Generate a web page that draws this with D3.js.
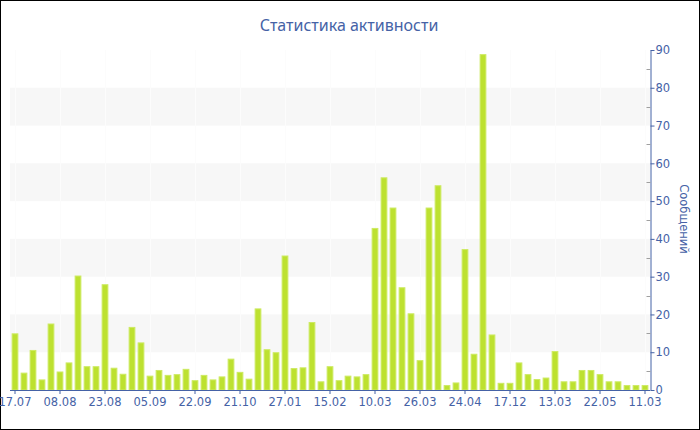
<!DOCTYPE html>
<html><head><meta charset="utf-8">
<script src="https://cdn.jsdelivr.net/npm/d3@7"></script>
<style>body{margin:0;background:#fff}svg{display:block}</style>
</head><body>
<script>
const titleText = "Статистика активности";
const yTitle = "Сообщений";
const values = [15.0,4.6,10.6,2.8,17.6,4.9,7.3,30.3,6.3,6.3,
  28.0,5.9,4.3,16.7,12.6,3.8,5.3,4.0,4.2,5.6,
  2.6,4.0,2.8,3.6,8.3,4.8,3.0,21.6,10.8,10.0,
  35.6,5.8,6.0,18.0,2.3,6.3,2.6,3.8,3.6,4.2,
  42.9,56.3,48.3,27.2,20.3,7.9,48.3,54.2,1.3,2.0,
  37.3,9.6,88.9,14.7,1.9,1.9,7.3,4.2,2.9,3.3,
  10.3,2.3,2.3,5.3,5.3,4.2,2.3,2.3,1.3,1.3,1.3];
const tickLabels = ["17.07","08.08","23.08","05.09","22.09","21.10","27.01","15.02","10.03","26.03","24.04","17.12","13.03","22.05","11.03"];
const yTicks = [0,10,20,30,40,50,60,70,80,90];
const bandRanges = [[10,20],[30,40],[50,60],[70,80]];

(function(){
const W = 700, H = 430;
const pLeft = 10.5, pRight = 650, pTop = 50, pBottom = 390;
const txtColor = "#4562a6";
const font = "DejaVu Sans, Verdana, sans-serif";

const svg = d3.select("body").append("svg").attr("width", W).attr("height", H);
svg.append("rect").attr("x",0.5).attr("y",0.5).attr("width",W-1).attr("height",H-1)
  .attr("fill","#fff").attr("stroke","#000").attr("stroke-width",1);

const idx = values.map((v,i)=>i);
const x = d3.scaleBand().domain(idx).range([pLeft, pRight - 0.5]).padding(0.25).paddingOuter(0.125);
const y = d3.scaleLinear().domain([0,90]).range([pBottom, pTop]);

// bands
svg.append("g").selectAll("rect").data(bandRanges).join("rect")
  .attr("x", 10).attr("width", pRight - 10)
  .attr("y", d => y(d[1])).attr("height", d => y(d[0]) - y(d[1]))
  .attr("fill", "#f7f7f7");

// faint vertical grid at ticks
const tickIdx = idx.filter(i => i % 5 === 0);
svg.append("g").selectAll("line").data(tickIdx).join("line")
  .attr("x1", d => Math.round(x(d) + x.bandwidth()/2) + 0.5)
  .attr("x2", d => Math.round(x(d) + x.bandwidth()/2) + 0.5)
  .attr("y1", pTop).attr("y2", pBottom)
  .attr("stroke", "#fcfcfc").attr("stroke-width", 1);

// bars
svg.append("g").selectAll("rect").data(values).join("rect")
  .attr("x", (d,i) => x(i) + 0.5)
  .attr("width", x.bandwidth() - 1)
  .attr("y", d => y(d) + 0.5)
  .attr("height", d => pBottom - y(d) - 0.5)
  .attr("fill", "#bde130")
  .attr("stroke", "#cdea62").attr("stroke-width", 1);

// x axis
const xAxis = d3.axisBottom(x).tickValues(tickIdx)
  .tickFormat(i => tickLabels[i/5]).tickSize(4).tickSizeOuter(0);
const gx = svg.append("g").attr("transform", `translate(0,${pBottom})`).call(xAxis);
gx.select(".domain").attr("stroke", txtColor).attr("d", `M${pLeft-0.5},0.5H${pRight}`);
gx.selectAll(".tick line").attr("stroke", txtColor);
gx.selectAll(".tick text").attr("fill", txtColor).attr("font-family", font)
  .attr("font-size", 11.5).attr("y", 7).attr("dy", "0.76em");

// y axis (right)
const gy = svg.append("g").attr("transform", `translate(${pRight + 0.5},0)`)
  .call(d3.axisRight(y).tickValues(yTicks).tickSize(4).tickPadding(1).tickSizeOuter(0));
gy.select(".domain").attr("stroke", txtColor);
gy.selectAll(".tick line").attr("stroke", txtColor);
gy.selectAll(".tick text").attr("fill", txtColor).attr("font-family", font).attr("font-size", 11.5);
// minor ticks
const minor = yTicks.slice(0,-1).map(t => t + 5);
svg.append("g").selectAll("line").data(minor).join("line")
  .attr("x1", pRight - 3.5).attr("x2", pRight + 0.5)
  .attr("y1", d => Math.round(y(d)) + 0.5).attr("y2", d => Math.round(y(d)) + 0.5)
  .attr("stroke", "#a0a0a0");

// title
svg.append("text").attr("x", 349).attr("y", 31).attr("text-anchor","middle")
  .attr("font-family", "Noto Sans, DejaVu Sans, sans-serif").attr("font-size", 16)
  .attr("fill", txtColor).text(titleText);

// y title
svg.append("text").attr("transform", `translate(680,219) rotate(90)`)
  .attr("text-anchor","middle").attr("font-family", font).attr("font-size", 11.5)
  .attr("fill", txtColor).text(yTitle);
})();
</script>
</body></html>
